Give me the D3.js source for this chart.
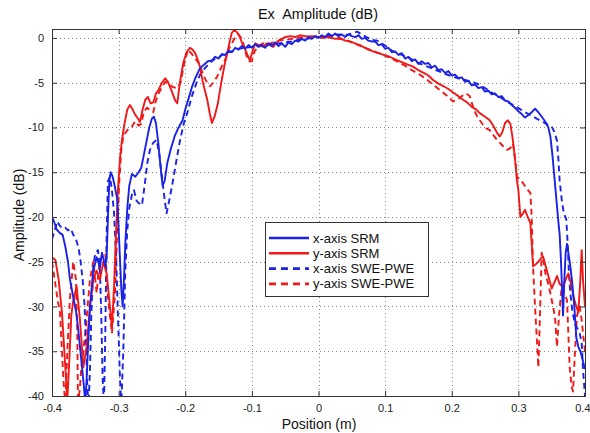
<!DOCTYPE html>
<html><head><meta charset="utf-8">
<script src="https://cdn.jsdelivr.net/npm/d3@7"></script>
<style>body{margin:0;background:#fff;}svg{display:block;font-family:"Liberation Sans",Arial,sans-serif;}</style>
</head><body>
<svg id="chart" width="590" height="433"></svg>
<script>
const xTicks = [-0.4,-0.3,-0.2,-0.1,0,0.1,0.2,0.3,0.4];
const yTicks = [0,-5,-10,-15,-20,-25,-30,-35,-40];
const seriesNames = ["x-axis SRM","y-axis SRM","x-axis SWE-PWE","y-axis SWE-PWE"];

const xAxisSRM = [[-0.400,-20.0],[-0.397,-20.5],[-0.393,-21.4],[-0.388,-21.8],[-0.384,-22.0],[-0.380,-23.3],[-0.376,-25],[-0.373,-27],[-0.368,-29],[-0.364,-30.5],[-0.361,-32.3],[-0.356,-36],[-0.352,-39],[-0.350,-41],[-0.348,-38],[-0.346,-34.5],[-0.343,-30],[-0.338,-26],[-0.333,-24.5],[-0.328,-25.6],[-0.325,-24],[-0.320,-25.5],[-0.318,-24.5],[-0.316,-20],[-0.314,-16],[-0.312,-15],[-0.309,-15.5],[-0.306,-16.5],[-0.302,-18],[-0.299,-23],[-0.296,-28],[-0.294,-30],[-0.292,-27],[-0.290,-23],[-0.287,-19],[-0.284,-16.5],[-0.280,-15.2],[-0.275,-15.5],[-0.270,-15],[-0.266,-14.5],[-0.262,-13],[-0.258,-11.5],[-0.254,-10],[-0.250,-9],[-0.247,-8.8],[-0.244,-9.5],[-0.240,-12],[-0.237,-14.5],[-0.234,-16.5],[-0.231,-16],[-0.227,-14],[-0.222,-12.5],[-0.216,-11],[-0.210,-10],[-0.204,-9.2],[-0.200,-8],[-0.196,-7],[-0.190,-5.5],[-0.185,-4.5],[-0.178,-3.4],[-0.172,-3],[-0.166,-2.6],[-0.160,-2.5],[-0.155,-2.1],[-0.150,-2.3],[-0.145,-1.8],[-0.140,-1.9],[-0.135,-1.4],[-0.130,-1.6],[-0.125,-1.1],[-0.120,-1.3],[-0.115,-0.9],[-0.110,-1.2],[-0.105,-0.8],[-0.100,-1.1],[-0.095,-0.7],[-0.090,-1.0],[-0.085,-0.8],[-0.080,-1.1],[-0.075,-0.6],[-0.070,-0.9],[-0.065,-0.5],[-0.060,-0.9],[-0.055,-0.6],[-0.050,-1.0],[-0.045,-0.5],[-0.040,-0.7],[-0.035,-0.3],[-0.030,-0.4],[-0.025,-0.1],[-0.020,-0.3],[-0.015,0.1],[-0.010,-0.1],[-0.005,0.2],[0.000,0],[0.005,0.3],[0.010,0.1],[0.015,0.5],[0.020,0.2],[0.025,0.5],[0.030,0.2],[0.035,0.4],[0.040,0.1],[0.045,0.4],[0.050,0.2],[0.055,0.1],[0.060,0.3],[0.065,-0.1],[0.070,0],[0.075,-0.3],[0.080,-0.4],[0.085,-0.4],[0.090,-0.8],[0.095,-0.7],[0.100,-1.2],[0.105,-1.1],[0.110,-1.6],[0.115,-1.5],[0.120,-1.9],[0.125,-1.7],[0.130,-2.3],[0.135,-2.1],[0.140,-2.6],[0.145,-2.4],[0.150,-2.9],[0.155,-2.6],[0.160,-2.9],[0.165,-2.8],[0.170,-3.3],[0.175,-3.1],[0.180,-3.6],[0.185,-3.5],[0.190,-3.9],[0.195,-3.7],[0.200,-4.2],[0.205,-4.1],[0.210,-4.5],[0.215,-4.4],[0.220,-4.9],[0.225,-4.8],[0.230,-5.3],[0.235,-5.2],[0.240,-5.6],[0.245,-5.5],[0.250,-6.0],[0.255,-5.9],[0.260,-6.3],[0.265,-6.2],[0.270,-6.6],[0.275,-6.5],[0.280,-7.0],[0.285,-7.1],[0.290,-7.5],[0.295,-7.8],[0.300,-8.2],[0.305,-8.5],[0.310,-8.9],[0.315,-8.6],[0.320,-8.3],[0.325,-7.9],[0.330,-8.3],[0.335,-8.8],[0.340,-9.3],[0.345,-10],[0.348,-11],[0.351,-13],[0.354,-15.5],[0.357,-18],[0.360,-20.5],[0.362,-22],[0.364,-25],[0.366,-29],[0.367,-31],[0.369,-27],[0.371,-24],[0.373,-23],[0.376,-24.5],[0.378,-25.5],[0.381,-27.5],[0.384,-30],[0.387,-33.5],[0.390,-34.5],[0.393,-35],[0.396,-35.8],[0.400,-37]];

const yAxisSRM = [[-0.400,-24.5],[-0.395,-24.8],[-0.390,-27],[-0.385,-30.7],[-0.380,-36.8],[-0.377,-40.5],[-0.374,-36],[-0.371,-31],[-0.368,-29.3],[-0.363,-27.8],[-0.358,-31.5],[-0.353,-36.8],[-0.348,-34.5],[-0.343,-30],[-0.338,-27],[-0.333,-26],[-0.328,-27],[-0.323,-25],[-0.318,-26.3],[-0.313,-30],[-0.310,-32.3],[-0.307,-28],[-0.304,-22],[-0.301,-17],[-0.298,-13.5],[-0.295,-11.4],[-0.291,-9.5],[-0.287,-8],[-0.283,-7.5],[-0.279,-8],[-0.275,-8.6],[-0.271,-9],[-0.268,-9.4],[-0.264,-8],[-0.260,-6.9],[-0.256,-6.6],[-0.252,-7.3],[-0.248,-7.2],[-0.244,-6.2],[-0.240,-5.8],[-0.235,-5],[-0.230,-4.5],[-0.226,-4.9],[-0.220,-6],[-0.215,-7],[-0.212,-7.3],[-0.208,-5],[-0.203,-2.8],[-0.198,-1.6],[-0.193,-1.1],[-0.189,-1.3],[-0.185,-1.7],[-0.181,-2.5],[-0.178,-3.2],[-0.174,-4.8],[-0.170,-6],[-0.167,-6.9],[-0.163,-8.5],[-0.160,-9.5],[-0.156,-8.8],[-0.151,-7.3],[-0.146,-5],[-0.141,-3],[-0.137,-1.7],[-0.133,-0.3],[-0.130,0.6],[-0.126,0.9],[-0.122,0.6],[-0.118,0.1],[-0.114,-0.7],[-0.110,-1.3],[-0.106,-2],[-0.103,-2.5],[-0.099,-1.5],[-0.095,-0.6],[-0.090,-0.8],[-0.083,-1],[-0.078,-0.6],[-0.073,-0.8],[-0.068,-1],[-0.063,-0.5],[-0.058,-0.2],[-0.050,0.1],[-0.042,0.2],[-0.035,0.1],[-0.028,0.3],[-0.020,0.2],[-0.012,0.1],[-0.005,0.2],[0.005,0],[0.015,0.1],[0.025,-0.1],[0.032,0],[0.040,-0.3],[0.048,-0.4],[0.055,-0.6],[0.062,-0.8],[0.067,-1],[0.075,-1.3],[0.082,-1.5],[0.090,-1.7],[0.098,-1.9],[0.107,-2.1],[0.115,-2.4],[0.125,-2.7],[0.135,-3.0],[0.142,-3.2],[0.150,-3.6],[0.158,-3.9],[0.165,-4.2],[0.172,-4.7],[0.180,-5.1],[0.188,-5.4],[0.195,-5.7],[0.202,-6.1],[0.210,-6.5],[0.217,-6.9],[0.223,-7.2],[0.230,-7.7],[0.237,-8.0],[0.242,-8.4],[0.250,-8.8],[0.257,-9.2],[0.263,-9.9],[0.268,-10.6],[0.272,-11],[0.276,-10.5],[0.280,-9.5],[0.284,-9.2],[0.288,-9.6],[0.291,-11],[0.295,-13.5],[0.298,-16],[0.300,-17],[0.303,-20],[0.307,-19.6],[0.310,-19.2],[0.314,-20],[0.318,-20.7],[0.320,-23],[0.322,-25.5],[0.326,-25.3],[0.330,-25],[0.334,-24.6],[0.337,-24.4],[0.341,-25.5],[0.345,-26.6],[0.350,-28],[0.354,-27.3],[0.358,-26.6],[0.362,-27.5],[0.367,-27.8],[0.371,-27],[0.375,-26.3],[0.379,-27.5],[0.383,-29],[0.387,-30],[0.390,-30.7],[0.393,-27],[0.395,-23.7],[0.397,-27],[0.400,-30]];

const xAxisPWE = [[-0.400,-22.5],[-0.396,-21.5],[-0.392,-20.5],[-0.388,-21],[-0.384,-21.3],[-0.380,-21.2],[-0.376,-21.5],[-0.372,-21.3],[-0.368,-22],[-0.364,-22.5],[-0.360,-23.5],[-0.357,-25],[-0.354,-27],[-0.351,-30],[-0.349,-34],[-0.347,-39],[-0.345,-41],[-0.343,-37],[-0.341,-31],[-0.338,-25.5],[-0.335,-24],[-0.331,-23.7],[-0.328,-26],[-0.326,-31],[-0.324,-38],[-0.322,-41],[-0.320,-33],[-0.318,-22],[-0.316,-16],[-0.313,-15.5],[-0.310,-17],[-0.307,-19.5],[-0.304,-24],[-0.301,-31],[-0.298,-38],[-0.296,-41],[-0.293,-35],[-0.290,-26],[-0.287,-21.5],[-0.284,-19],[-0.280,-17.5],[-0.277,-17],[-0.273,-18.2],[-0.269,-18.5],[-0.265,-18.7],[-0.261,-16.5],[-0.257,-14],[-0.253,-12.5],[-0.248,-11.7],[-0.243,-11.4],[-0.239,-13],[-0.235,-15.5],[-0.231,-18],[-0.228,-19.6],[-0.225,-18.5],[-0.220,-16.6],[-0.214,-14],[-0.208,-11.5],[-0.202,-9.5],[-0.197,-8.4],[-0.190,-6.5],[-0.183,-5],[-0.177,-4],[-0.172,-3.5],[-0.166,-3],[-0.160,-2.6],[-0.155,-2.3],[-0.150,-2.2],[-0.145,-1.9],[-0.140,-1.8],[-0.135,-1.6],[-0.130,-1.5],[-0.125,-1.4],[-0.120,-1.2],[-0.110,-1.1],[-0.100,-1.0],[-0.090,-0.8],[-0.080,-0.9],[-0.070,-0.7],[-0.060,-0.6],[-0.050,-0.5],[-0.040,-0.4],[-0.030,-0.2],[-0.020,-0.1],[-0.010,0],[0.000,0.1],[0.010,0.2],[0.020,0.3],[0.030,0.4],[0.040,0.3],[0.050,0.5],[0.058,0.7],[0.065,0.4],[0.072,0.1],[0.080,-0.2],[0.088,-0.3],[0.095,-0.6],[0.103,-1.0],[0.110,-1.4],[0.118,-1.7],[0.125,-1.9],[0.133,-2.1],[0.140,-2.4],[0.150,-2.8],[0.160,-3.1],[0.170,-3.4],[0.180,-3.7],[0.190,-4.0],[0.200,-4.3],[0.210,-4.5],[0.220,-4.7],[0.230,-4.9],[0.238,-5.1],[0.250,-5.6],[0.260,-6.1],[0.272,-6.6],[0.285,-7.2],[0.297,-7.7],[0.310,-8.3],[0.320,-8.7],[0.332,-9.2],[0.342,-9.6],[0.350,-9.9],[0.354,-10.5],[0.358,-11.5],[0.360,-13.5],[0.362,-16],[0.365,-18],[0.368,-19.5],[0.372,-20.3],[0.374,-23],[0.376,-26.5],[0.378,-28.5],[0.381,-30.5],[0.385,-32],[0.389,-32.5],[0.392,-33],[0.395,-34],[0.397,-37],[0.400,-40]];

const yAxisPWE = [[-0.400,-25],[-0.397,-26.5],[-0.394,-28],[-0.391,-29.5],[-0.388,-30.7],[-0.385,-35],[-0.383,-38],[-0.380,-41],[-0.377,-35],[-0.373,-29],[-0.368,-25],[-0.364,-27],[-0.362,-33],[-0.361,-41],[-0.358,-39],[-0.356,-36.8],[-0.350,-33],[-0.346,-29.5],[-0.343,-27],[-0.338,-25],[-0.335,-27],[-0.333,-28.5],[-0.330,-26],[-0.328,-24.8],[-0.324,-24.2],[-0.320,-24],[-0.316,-29],[-0.313,-31],[-0.310,-33],[-0.307,-30],[-0.305,-28],[-0.302,-21],[-0.299,-16],[-0.296,-12.5],[-0.293,-11],[-0.287,-10.3],[-0.280,-9.9],[-0.275,-9.3],[-0.270,-9.8],[-0.266,-9.6],[-0.262,-8.2],[-0.257,-7.8],[-0.252,-8.1],[-0.248,-8.3],[-0.244,-7],[-0.240,-6.2],[-0.235,-5.5],[-0.230,-4.9],[-0.225,-5.2],[-0.218,-5.5],[-0.212,-5.6],[-0.207,-5],[-0.202,-3],[-0.196,-1.3],[-0.190,-1.8],[-0.185,-2.3],[-0.180,-2.8],[-0.175,-3.7],[-0.170,-4.6],[-0.167,-5],[-0.163,-5.4],[-0.158,-5],[-0.152,-4.3],[-0.146,-3.3],[-0.140,-2.4],[-0.135,-1.3],[-0.130,-0.6],[-0.125,0.1],[-0.120,0.4],[-0.116,0],[-0.112,-0.8],[-0.108,-2],[-0.104,-2.6],[-0.100,-2.6],[-0.096,-1.5],[-0.090,-0.9],[-0.083,-0.6],[-0.075,-0.7],[-0.068,-0.5],[-0.060,-0.3],[-0.050,-0.2],[-0.040,-0.1],[-0.030,0],[-0.020,0.1],[-0.010,0.2],[0.000,0.1],[0.010,0.2],[0.020,0],[0.030,-0.1],[0.040,-0.2],[0.050,-0.5],[0.060,-0.8],[0.070,-1.1],[0.080,-1.4],[0.090,-1.7],[0.100,-2],[0.110,-2.3],[0.120,-2.7],[0.130,-3.1],[0.140,-3.6],[0.150,-4],[0.160,-4.5],[0.172,-5.2],[0.182,-5.8],[0.192,-6.4],[0.202,-7.1],[0.208,-6.9],[0.215,-6.5],[0.222,-6.2],[0.227,-6.5],[0.232,-7.7],[0.237,-8.6],[0.242,-9.2],[0.247,-9.7],[0.252,-10.1],[0.257,-10.3],[0.262,-10.8],[0.267,-11.3],[0.272,-11.7],[0.277,-12.1],[0.283,-12.5],[0.288,-12.3],[0.292,-11.8],[0.295,-13.5],[0.298,-15.5],[0.303,-15.9],[0.307,-16.2],[0.312,-16.8],[0.318,-17.3],[0.320,-20],[0.322,-25.5],[0.325,-30],[0.328,-34],[0.330,-36.8],[0.332,-32],[0.335,-24],[0.338,-25],[0.341,-26.5],[0.345,-27.5],[0.348,-28.5],[0.352,-30],[0.355,-31.2],[0.358,-34.5],[0.361,-31],[0.365,-27.8],[0.369,-28.5],[0.373,-29.3],[0.375,-33],[0.377,-36.8],[0.380,-39],[0.382,-39.5],[0.385,-35],[0.388,-31],[0.392,-30],[0.395,-31.5],[0.397,-33],[0.400,-35]];

const BLUE = "#1a22e8", RED = "#f01818";
const series = [
  {name: seriesNames[0], data: xAxisSRM, color: BLUE, dash: null},
  {name: seriesNames[1], data: yAxisSRM, color: RED, dash: null},
  {name: seriesNames[2], data: xAxisPWE, color: BLUE, dash: "6,4"},
  {name: seriesNames[3], data: yAxisPWE, color: RED, dash: "6,4"}
];

const svg = d3.select("#chart");
const L = 52, R = 585, T = 29, B = 396;
const x = d3.scaleLinear().domain([-0.4, 0.4]).range([L, R]);
const y = d3.scaleLinear().domain([-40, 1]).range([B, T]);

svg.append("defs").append("clipPath").attr("id","clip")
  .append("rect").attr("x",L).attr("y",T).attr("width",R-L).attr("height",B-T);

// grid
const grid = svg.append("g").attr("stroke","#8a8a8a").attr("stroke-width",1).attr("stroke-dasharray","1,3");
grid.selectAll(".gx").data(xTicks.slice(1,-1)).join("line")
  .attr("x1",d=>Math.round(x(d))+0.5).attr("x2",d=>Math.round(x(d))+0.5).attr("y1",T).attr("y2",B);
grid.selectAll(".gy").data(yTicks.slice(0,-1)).join("line")
  .attr("y1",d=>Math.round(y(d))+0.5).attr("y2",d=>Math.round(y(d))+0.5).attr("x1",L).attr("x2",R);

// lines
const line = d3.line().x(d=>x(d[0])).y(d=>y(d[1]));
const lg = svg.append("g").attr("clip-path","url(#clip)");
[series[3], series[2], series[1], series[0]].forEach(s=>{
  lg.append("path").datum(s.data).attr("d",line).attr("fill","none")
    .attr("stroke",s.color).attr("stroke-width",1.9).attr("stroke-linejoin","round")
    .attr("stroke-dasharray",s.dash);
});

// axes
const axisColor = "#333";
const fmt = d => d === 0 ? "0" : String(d);
const gxb = svg.append("g").attr("transform",`translate(0,${B})`)
  .call(d3.axisBottom(x).tickValues(xTicks).tickFormat(fmt).tickSize(-5).tickPadding(8));
const gxt = svg.append("g").attr("transform",`translate(0,${T})`)
  .call(d3.axisTop(x).tickValues(xTicks).tickFormat("").tickSize(-5));
const gyl = svg.append("g").attr("transform",`translate(${L},0)`)
  .call(d3.axisLeft(y).tickValues(yTicks).tickFormat(fmt).tickSize(-5).tickPadding(8));
const gyr = svg.append("g").attr("transform",`translate(${R},0)`)
  .call(d3.axisRight(y).tickValues(yTicks).tickFormat("").tickSize(-5));
[gxb,gxt,gyl,gyr].forEach(g=>{
  g.select(".domain").attr("stroke",axisColor).attr("stroke-width",1);
  g.selectAll(".tick line").attr("stroke",axisColor);
  g.selectAll("text").attr("fill","#222").attr("font-size",11).attr("font-family","Liberation Sans, Arial, sans-serif");
});
// keep the last x label inside the window
gxb.selectAll(".tick text").filter(d => d === 0.4).attr("text-anchor","end").attr("dx","5");

// titles
svg.append("text").attr("x",318).attr("y",19).attr("text-anchor","middle")
  .style("white-space","pre").attr("font-size",14.5).attr("fill","#111").text("Ex  Amplitude (dB)");
svg.append("text").attr("x",319).attr("y",429).attr("text-anchor","middle")
  .attr("font-size",14).attr("fill","#111").text("Position (m)");
svg.append("text").attr("transform","translate(24,215) rotate(-90)").attr("text-anchor","middle")
  .attr("font-size",14).attr("fill","#111").text("Amplitude (dB)");

// legend
const leg = svg.append("g");
leg.append("rect").attr("x",265.5).attr("y",222.5).attr("width",163).attr("height",74)
  .attr("fill","#fff").attr("stroke","#333").attr("stroke-width",1);
series.forEach((s,i)=>{
  const yy = 238 + i*15.3;
  leg.append("line").attr("x1",269).attr("x2",309).attr("y1",yy).attr("y2",yy)
    .attr("stroke",s.color).attr("stroke-width",2.6).attr("stroke-dasharray",s.dash ? "7,5" : null);
  leg.append("text").attr("x",313).attr("y",yy+4.5).attr("font-size",13).attr("fill","#111").text(s.name);
});
</script>
</body></html>
